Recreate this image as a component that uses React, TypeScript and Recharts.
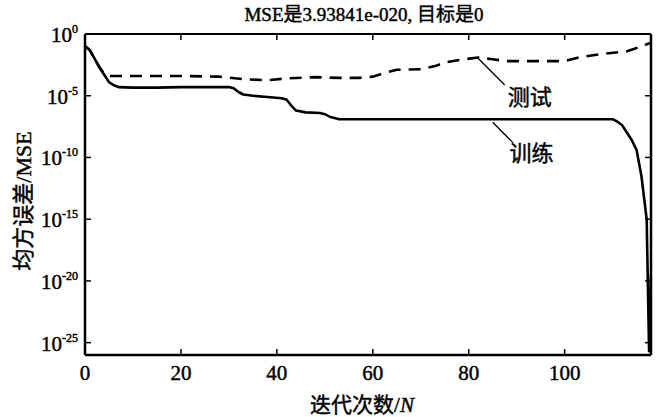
import React from 'react';
import { LineChart, Line, XAxis, YAxis, ReferenceLine, ReferenceDot } from 'recharts';

// training MSE (solid)
const trainN = [0, 1, 2, 3, 4, 5, 6, 7, 10, 15, 20, 25, 30, 31, 32, 33, 35, 38, 41, 42, 43, 44, 46, 49, 50, 51, 53, 60, 70, 80, 90, 100, 110, 111, 112, 113, 114, 115, 116, 117.1, 117.6, 118];
const trainMSE = [1e-1, 5e-2, 1e-2, 2e-3, 5e-4, 1.26e-4, 7.1e-5, 5e-5, 4.5e-5, 4.5e-5, 5e-5, 5e-5, 5e-5, 4e-5, 2e-5, 1.26e-5, 1e-5, 7.9e-6, 6.3e-6, 5e-6, 1.6e-6, 6.3e-7, 4.5e-7, 4e-7, 3.2e-7, 2e-7, 1.26e-7, 1.26e-7, 1.26e-7, 1.26e-7, 1.26e-7, 1.26e-7, 1.26e-7, 7.9e-8, 4e-8, 1e-8, 2.5e-9, 4e-10, 3.2e-12, 1e-15, 2e-26, 3.94e-20];

// test MSE (dashed)
const testN = [0, 1, 2, 3, 4, 5, 10, 20, 28, 33, 38, 42, 48, 53, 57, 60, 62, 65, 70, 73, 75, 78, 82, 85, 88, 95, 100, 103, 108, 113, 116, 118];
const testMSE = [1e-1, 5e-2, 1e-2, 2e-3, 6.3e-4, 4e-4, 4e-4, 4e-4, 3.5e-4, 2.2e-4, 1.8e-4, 2.5e-4, 3.2e-4, 2.8e-4, 2.8e-4, 3.5e-4, 6.3e-4, 1.26e-3, 1.4e-3, 2.5e-3, 5e-3, 7.9e-3, 1.26e-2, 8.9e-3, 6.3e-3, 6.3e-3, 6.3e-3, 1.26e-2, 2.5e-2, 4e-2, 1e-1, 2e-1];

const xTicks = [0, 20, 40, 60, 80, 100];
const yTicks = [1, 1e-5, 1e-10, 1e-15, 1e-20, 1e-25];
const yTickExp = ['0', '-5', '-10', '-15', '-20', '-25'];

const titleText = 'MSE是3.93841e-020, 目标是0';
const xLabelText = '迭代次数/';
const xLabelItalic = 'N';
const yLabelText = '均方误差/MSE';

// annotations: label, leader start, leader end, text position
const testNote = { label: '测试', from: { x: 81.7, y: 1.35e-2 }, to: { x: 87.5, y: 7.4e-5 }, text: { x: 92.7, y: 7.9e-6 } };
const trainNote = { label: '训练', from: { x: 85, y: 7.1e-8 }, to: { x: 89.2, y: 1.6e-9 }, text: { x: 93.1, y: 2.5e-10 } };

const FONT = '"Liberation Serif", "Times New Roman", Times, "Noto Sans CJK SC", serif';
const fs = (size: number, extra: any = {}) => ({ fontFamily: FONT, fontSize: size, ...extra });
const INK = { fill: '#000', stroke: '#000', strokeWidth: 0.45 };

const trainData = trainN.map((n, i) => ({ n, mse: trainMSE[i] }));
const testData = testN.map((n, i) => ({ n, mse: testMSE[i] }));

const BottomTick = (p: any) => (
  <g>
    <line x1={p.x} x2={p.x} y1={p.y} y2={p.y - 6} stroke="#000" strokeWidth={1.5} />
    <text x={p.x} y={p.y + 25} textAnchor="middle" style={fs(21)} {...INK}>
      {p.payload.value}
    </text>
  </g>
);

const TopTick = (p: any) => (
  <line x1={p.x} x2={p.x} y1={p.y} y2={p.y + 6} stroke="#000" strokeWidth={1.5} />
);

const LeftTick = (p: any) => {
  const idx = yTicks.indexOf(p.payload.value);
  const exp = idx >= 0 ? yTickExp[idx] : '';
  return (
    <g>
      <line x1={p.x} x2={p.x + 6} y1={p.y} y2={p.y} stroke="#000" strokeWidth={1.5} />
      <text x={p.x - 7} y={p.y + 8} textAnchor="end" style={fs(21)} {...INK}>
        <tspan>10</tspan>
        <tspan dy={-9} style={fs(12)}>{exp}</tspan>
      </text>
    </g>
  );
};

const RightTick = (p: any) => (
  <line x1={p.x} x2={p.x - 6} y1={p.y} y2={p.y} stroke="#000" strokeWidth={1.5} />
);

const NoteText = (label: string) => (p: any) => (
  <text x={p.cx} y={p.cy + 8} textAnchor="middle" style={fs(22)} {...INK}>
    {label}
  </text>
);

export default function App() {
  return (
    <div style={{ position: 'absolute', left: 0, top: 0, width: 663, height: 417, background: '#fff' }}>
      <LineChart
        width={663}
        height={417}
        margin={{ top: 33, right: 11, bottom: 32, left: 25 }}
      >
        <XAxis
          xAxisId="b"
          type="number"
          dataKey="n"
          domain={[0, 118]}
          ticks={xTicks}
          interval={0}
          allowDataOverflow
          height={30}
          tickSize={0}
          tickMargin={0}
          tickLine={false}
          axisLine={{ stroke: '#000', strokeWidth: 2.5 }}
          tick={<BottomTick />}
        />
        <XAxis
          xAxisId="t"
          orientation="top"
          type="number"
          dataKey="n"
          domain={[0, 118]}
          ticks={xTicks}
          interval={0}
          allowDataOverflow
          height={1}
          tickSize={0}
          tickMargin={0}
          tickLine={false}
          axisLine={{ stroke: '#000', strokeWidth: 2 }}
          tick={<TopTick />}
        />
        <YAxis
          yAxisId="l"
          type="number"
          scale="log"
          domain={[1e-26, 1]}
          ticks={yTicks}
          interval={0}
          allowDataOverflow
          width={60}
          tickSize={0}
          tickMargin={0}
          tickLine={false}
          axisLine={{ stroke: '#000', strokeWidth: 2.5 }}
          tick={<LeftTick />}
        />
        <YAxis
          yAxisId="r"
          orientation="right"
          type="number"
          scale="log"
          domain={[1e-26, 1]}
          ticks={yTicks}
          interval={0}
          allowDataOverflow
          width={1}
          tickSize={0}
          tickMargin={0}
          tickLine={false}
          axisLine={{ stroke: '#000', strokeWidth: 2.5 }}
          tick={<RightTick />}
        />
        <Line
          xAxisId="b"
          yAxisId="l"
          data={testData}
          dataKey="mse"
          type="linear"
          stroke="#000"
          strokeWidth={2.6}
          strokeDasharray="12 8"
          dot={false}
          activeDot={false}
          isAnimationActive={false}
        />
        <Line
          xAxisId="b"
          yAxisId="l"
          data={trainData}
          dataKey="mse"
          type="linear"
          stroke="#000"
          strokeWidth={2.6}
          strokeLinejoin="round"
          dot={false}
          activeDot={false}
          isAnimationActive={false}
        />
        <ReferenceLine
          xAxisId="b"
          yAxisId="l"
          segment={[testNote.from, testNote.to]}
          stroke="#000"
          strokeWidth={1.3}
        />
        <ReferenceLine
          xAxisId="b"
          yAxisId="l"
          segment={[trainNote.from, trainNote.to]}
          stroke="#000"
          strokeWidth={1.3}
        />
        <ReferenceDot xAxisId="b" yAxisId="l" x={testNote.text.x} y={testNote.text.y} r={0} shape={NoteText(testNote.label)} />
        <ReferenceDot xAxisId="b" yAxisId="l" x={trainNote.text.x} y={trainNote.text.y} r={0} shape={NoteText(trainNote.label)} />
      </LineChart>
      <svg
        width={663}
        height={417}
        style={{ position: 'absolute', left: 0, top: 0, pointerEvents: 'none' }}
      >
        <text x={364} y={21} textAnchor="middle" style={fs(19)} {...INK}>
          {titleText}
        </text>
        <text x={362} y={412} textAnchor="middle" style={fs(21)} {...INK}>
          {xLabelText}
          <tspan fontStyle="italic">{xLabelItalic}</tspan>
        </text>
        <text
          x={0}
          y={0}
          transform="translate(31,201) rotate(-90)"
          textAnchor="middle"
          style={fs(22)}
          {...INK}
        >
          {yLabelText}
        </text>
      </svg>
    </div>
  );
}
